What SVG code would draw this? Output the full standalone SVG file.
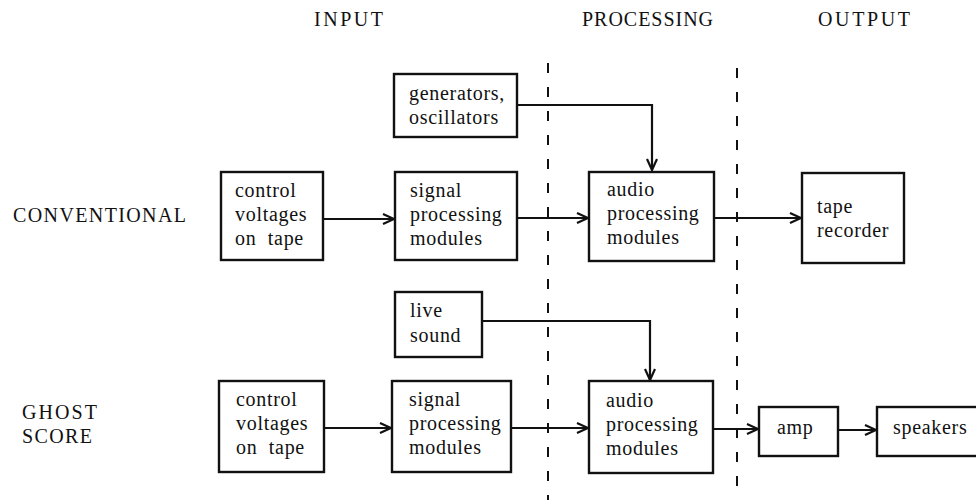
<svg xmlns="http://www.w3.org/2000/svg" width="976" height="500" viewBox="0 0 976 500">
<defs>
<marker id="arr" markerWidth="14" markerHeight="14" refX="12" refY="6" orient="auto" markerUnits="userSpaceOnUse">
<path d="M1,1 L12,6 L1,11" fill="none" stroke="#111" stroke-width="2.2"/>
</marker>
<style>
.box{fill:#fff;stroke:#111;stroke-width:2.4}
.t{font-family:"Liberation Serif","Times New Roman",serif;font-size:20px;letter-spacing:0.7px;fill:#111}
.h{font-family:"Liberation Serif","Times New Roman",serif;font-size:20px;fill:#111}
.c{fill:none;stroke:#111;stroke-width:2.2}
.d{fill:none;stroke:#111;stroke-width:2;stroke-dasharray:10 14}
</style>
</defs>
<rect width="976" height="500" fill="#fff"/>
<g id="headings">
<text class="h" x="314" y="26" textLength="69" lengthAdjust="spacing">INPUT</text>
<text class="h" x="582" y="26" textLength="131" lengthAdjust="spacing">PROCESSING</text>
<text class="h" x="818" y="26" textLength="92" lengthAdjust="spacing">OUTPUT</text>
<text class="h" x="13" y="222" textLength="173" lengthAdjust="spacing">CONVENTIONAL</text>
<text class="h" x="22" y="419" textLength="75" lengthAdjust="spacing">GHOST</text>
<text class="h" x="22" y="443" textLength="70" lengthAdjust="spacing">SCORE</text>
</g>
<g id="dividers">
<line class="d" x1="548" y1="63" x2="548" y2="500"/>
<line class="d" x1="737" y1="68" x2="737" y2="500"/>
</g>
<g id="connectors">
<line class="c" x1="323" y1="219" x2="394" y2="219" marker-end="url(#arr)"/>
<line class="c" x1="517" y1="218" x2="588" y2="218" marker-end="url(#arr)"/>
<line class="c" x1="714" y1="218" x2="801" y2="218" marker-end="url(#arr)"/>
<path class="c" d="M517,105 H652 V170" marker-end="url(#arr)"/>
<line class="c" x1="324" y1="428" x2="391" y2="428" marker-end="url(#arr)"/>
<line class="c" x1="511" y1="428" x2="588" y2="428" marker-end="url(#arr)"/>
<line class="c" x1="713" y1="429" x2="758" y2="429" marker-end="url(#arr)"/>
<line class="c" x1="838" y1="430" x2="876" y2="430" marker-end="url(#arr)"/>
<path class="c" d="M482,321 H650 V380" marker-end="url(#arr)"/>
</g>
<g id="conv-control">
<rect class="box" x="221" y="172" width="102" height="88"/>
<text class="t" x="235" y="197">control</text>
<text class="t" x="235" y="221">voltages</text>
<text class="t" x="235" y="245">on&#160; tape</text>
</g>
<g id="conv-signal">
<rect class="box" x="395" y="172" width="122" height="88"/>
<text class="t" x="410" y="197">signal</text>
<text class="t" x="410" y="221">processing</text>
<text class="t" x="410" y="245">modules</text>
</g>
<g id="generators">
<rect class="box" x="394" y="74" width="123" height="63"/>
<text class="t" x="409" y="100">generators,</text>
<text class="t" x="409" y="124">oscillators</text>
</g>
<g id="conv-audio">
<rect class="box" x="589" y="172" width="125" height="89"/>
<text class="t" x="607" y="196">audio</text>
<text class="t" x="607" y="220">processing</text>
<text class="t" x="607" y="244">modules</text>
</g>
<g id="tape-recorder">
<rect class="box" x="802" y="173" width="102" height="90"/>
<text class="t" x="817" y="213">tape</text>
<text class="t" x="817" y="237">recorder</text>
</g>
<g id="live-sound">
<rect class="box" x="395" y="292" width="87" height="65"/>
<text class="t" x="410" y="317">live</text>
<text class="t" x="410" y="342">sound</text>
</g>
<g id="ghost-control">
<rect class="box" x="219" y="381" width="105" height="91"/>
<text class="t" x="236" y="406">control</text>
<text class="t" x="236" y="430">voltages</text>
<text class="t" x="236" y="454">on&#160; tape</text>
</g>
<g id="ghost-signal">
<rect class="box" x="392" y="381" width="119" height="91"/>
<text class="t" x="409" y="406">signal</text>
<text class="t" x="409" y="430">processing</text>
<text class="t" x="409" y="454">modules</text>
</g>
<g id="ghost-audio">
<rect class="box" x="589" y="381" width="124" height="92"/>
<text class="t" x="606" y="407">audio</text>
<text class="t" x="606" y="431">processing</text>
<text class="t" x="606" y="455">modules</text>
</g>
<g id="amp">
<rect class="box" x="759" y="407" width="79" height="49"/>
<text class="t" x="777" y="434">amp</text>
</g>
<g id="speakers">
<rect class="box" x="877" y="407" width="110" height="49"/>
<text class="t" x="893" y="434">speakers</text>
</g>
</svg>
